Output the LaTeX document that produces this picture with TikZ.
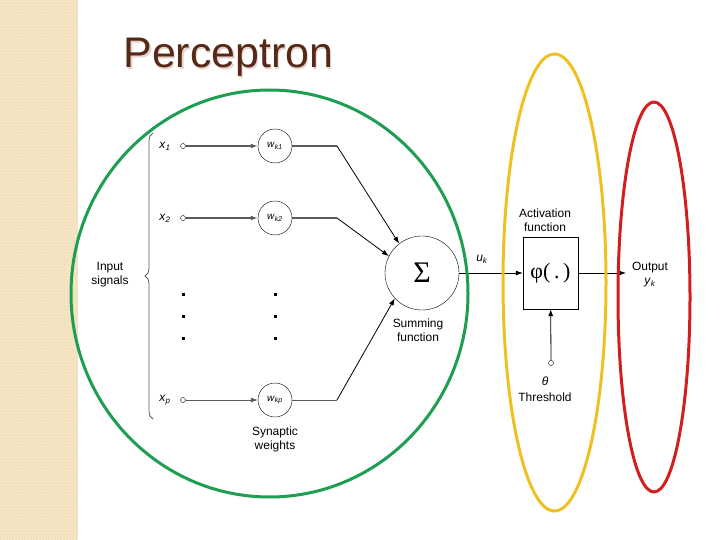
\documentclass[tikz,border=0pt]{standalone}
\usepackage{fontspec}
\setmainfont{Liberation Sans}
\newfontfamily\serifsym{Liberation Serif}
\usetikzlibrary{arrows.meta,patterns,decorations.pathreplacing}

\definecolor{stripbeige}{HTML}{F1DFB8}
\definecolor{stripcheck}{HTML}{F8ECD3}
\definecolor{titlebrown}{HTML}{552818}
\definecolor{titleshade}{HTML}{E8D2CC}
\definecolor{ringgreen}{HTML}{1E9E50}
\definecolor{ringyellow}{HTML}{F0C020}
\definecolor{ringred}{HTML}{D21E1E}
\definecolor{wiregray}{HTML}{5A5A5A}

\pgfdeclarepatternformonly{finecheck}{\pgfqpoint{0bp}{0bp}}{\pgfqpoint{3bp}{3bp}}{\pgfqpoint{3bp}{3bp}}{%
    \pgfpathrectangle{\pgfqpoint{0bp}{0bp}}{\pgfqpoint{1.5bp}{1.5bp}}%
    \pgfpathrectangle{\pgfqpoint{1.5bp}{1.5bp}}{\pgfqpoint{1.5bp}{1.5bp}}%
    \pgfusepath{fill}}

\newcommand{\lbl}[2]{\textit{#1}\textsubscript{\textit{#2}}}

\tikzset{
    wcirc/.style={draw, circle, minimum size=34bp, inner sep=0pt, font=\fontsize{10}{10}\selectfont},
    sumcirc/.style={draw, circle, minimum size=74bp, inner sep=0pt},
    actbox/.style={draw, minimum width=55bp, minimum height=72bp, inner sep=0pt},
    port/.style={draw, circle, minimum size=5bp, inner sep=0pt, fill=white},
    inwire/.style={wiregray, line width=1.8bp},
    wire/.style={line width=0.8bp},
    tip/.style={-{Latex[length=7bp,width=5bp]}},
    ring/.style={line width=3bp}
}

\begin{document}
\begin{tikzpicture}[x=1bp, y=-1bp, every node/.style={font=\fontsize{12}{14}\selectfont, align=center}]
    \useasboundingbox (0,0) rectangle (720,540);

    % Left strip
    \fill[stripbeige] (0,0) rectangle (78,540);
    \fill[pattern=finecheck, pattern color=stripcheck] (0,0) rectangle (78,540);

    % Title
    \node[anchor=base west, text=titleshade, font=\fontsize{43}{43}\selectfont] at (121.5,69.5) {Perceptron};
    \node[anchor=base west, text=titlebrown, font=\fontsize{43}{43}\selectfont] (title) at (120,68) {Perceptron};

    % Input rows
    \foreach \i/\sub/\y in {1/1/146, 2/2/218, p/p/400} {
            \node (xl\i) at (165,\y) {\lbl{x}{\sub}};
            \node[port] (in\i) at (183,\y) {};
            \node[wcirc] (w\i) at (275,\y) {\lbl{w}{k\sub}};
            \coordinate (b\i) at (337,\y);
        }
    \draw[inwire, tip] (in1) -- (w1);
    \draw[inwire, tip] (in2) -- (w2);
    \draw[wire, wiregray, tip] (inp) -- (wp);

    % Dots between rows
    \foreach \yy in {294,316,338} {
            \fill (181.5,\yy-1.5) rectangle +(3,3);
            \fill (273.5,\yy-1.5) rectangle +(3,3);
        }

    % Brace and input label
    \draw[wiregray, line width=0.8bp, decorate, decoration={brace, amplitude=8bp}] (153,419) -- (153,133);
    \node (inlbl) at (110,275) {Input\\signals};

    % Summing junction
    \node[sumcirc] (sum) at (422,273) {\serifsym\fontsize{30}{30}\selectfont Σ};
    \draw[inwire] (w1) -- (b1);
    \draw[wire, tip] (b1) -- (sum.128);
    \draw[inwire] (w2) -- (b2);
    \draw[wire, tip] (b2) -- (sum.153);
    \draw[wire, wiregray] (wp) -- (bp);
    \draw[wire, tip] (bp) -- (sum.223);
    \node (synlbl) at (275,439) {Synaptic\\weights};
    \node (sumlbl) at (418,330) {Summing\\function};

    % Activation
    \node[actbox] (act) at (550.5,273) {\serifsym\fontsize{22}{22}\selectfont φ(\,.\,)};
    \draw[wire, tip] (sum) -- (act);
    \node (uk) at (482,259) {\lbl{u}{k}};
    \node (actlbl) at (545,220) {Activation\\function};

    % Threshold
    \node[port] (thr) at (551,363) {};
    \draw[wire, tip] (thr) -- (act);
    \node (theta) at (545,381) {\textit{θ}};
    \node (thrlbl) at (545,397) {Threshold};

    % Output
    \coordinate (out) at (626,273);
    \draw[wire, tip] (act) -- (out);
    \node (outlbl) at (650,275) {Output\\\lbl{y}{k}};

    % Rings
    \draw[ring, ringgreen] (269.5,293.5) ellipse [x radius=198.5, y radius=203.5];
    \draw[ring, ringyellow] (554.5,282.5) ellipse [x radius=51.5, y radius=228.5];
    \draw[ring, ringred] (654,297) ellipse [x radius=36, y radius=195];
\end{tikzpicture}
\end{document}
